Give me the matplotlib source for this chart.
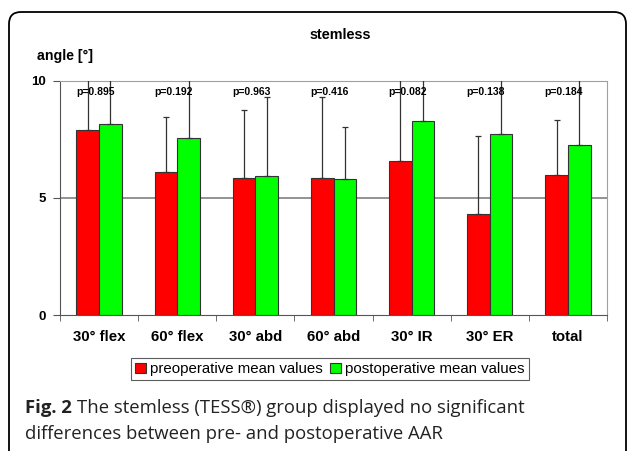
import numpy as np
import matplotlib
matplotlib.use("Agg")
import matplotlib.pyplot as plt
from matplotlib.patches import FancyBboxPatch
from matplotlib.transforms import IdentityTransform

# Data
categories = ["30° flex", "60° flex", "30° abd", "60° abd", "30° IR", "30° ER", "total"]
pre_mean = [7.90, 6.12, 5.86, 5.86, 6.57, 4.31, 5.96]
post_mean = [8.17, 7.54, 5.92, 5.79, 8.27, 7.71, 7.24]
pre_sd = [3.0, 2.34, 2.89, 3.46, 4.0, 3.32, 2.35]
post_sd = [2.6, 3.1, 3.40, 2.25, 2.5, 3.0, 2.86]
p_values = ["p=0.895", "p=0.192", "p=0.963", "p=0.416", "p=0.082", "p=0.138", "p=0.184"]

fig = plt.figure(figsize=(6.29, 4.51), dpi=100)
ax = fig.add_axes([60 / 629, 1 - 315 / 451, 547 / 629, 234.3 / 451])

x = np.arange(len(categories))
w = 0.29
ax.bar(x - w / 2, pre_mean, w, color="#ff0000", edgecolor="#333333", linewidth=0.8,
       label="preoperative mean values", zorder=2)
ax.bar(x + w / 2, post_mean, w, color="#00ff00", edgecolor="#333333", linewidth=0.8,
       label="postoperative mean values", zorder=2)
zeros = [0] * len(categories)
ax.errorbar(x - w / 2, pre_mean, yerr=[zeros, pre_sd], fmt="none", ecolor="#333333",
            elinewidth=0.9, capsize=2.5, capthick=0.9, zorder=3)
ax.errorbar(x + w / 2, post_mean, yerr=[zeros, post_sd], fmt="none", ecolor="#333333",
            elinewidth=0.9, capsize=2.5, capthick=0.9, zorder=3)

for xi, p in zip(x, p_values):
    ax.text(xi - 0.05, 9.52, p, ha="center", va="center", fontsize=7.5,
            fontweight="bold", family="Liberation Sans", zorder=4)

ax.set_xlim(-0.5, len(categories) - 0.5)
ax.set_ylim(0, 10)
ax.set_yticks([0, 5, 10])
ax.set_yticklabels(["0", "5", "10"], fontsize=9.5, fontweight="bold", family="Liberation Sans")
ax.set_xticks(x)
ax.set_xticklabels(categories, fontsize=10.8, fontweight="bold", family="Liberation Sans")
ax.set_xticks(np.arange(len(categories) + 1) - 0.5, minor=True)
ax.tick_params(axis="x", which="major", length=0, pad=11)
ax.tick_params(axis="x", which="minor", length=4, color="#555555", direction="out")
ax.tick_params(axis="y", length=5, color="#555555", pad=5)
ax.axhline(5, color="#808080", linewidth=1.2, zorder=1)

for side in ["top", "right"]:
    ax.spines[side].set_color("#a0a0a0")
for side in ["left", "bottom"]:
    ax.spines[side].set_color("#555555")

# titles
fig.text(37 / 629, 1 - 56 / 451, "angle [°]", ha="left", va="center",
         fontsize=10.2, fontweight="bold", family="Liberation Sans")
fig.text(340 / 629, 1 - 35 / 451, "stemless", ha="center", va="center",
         fontsize=10.4, fontweight="bold", family="Liberation Sans")

leg = fig.legend(loc="center", bbox_to_anchor=(330 / 629, 1 - 369 / 451), ncol=2,
                 prop={"family": "Liberation Sans", "size": 10.8}, frameon=True,
                 fancybox=False, edgecolor="#333333", handlelength=0.7, handleheight=0.7,
                 handletextpad=0.3, columnspacing=0.5, borderpad=0.25, borderaxespad=0)
leg.get_frame().set_linewidth(0.8)

# caption, "Fig. 2" in bold followed by normal text
cap_size = 13.3
cap_color = "#222222"
t_bold = fig.text(25 / 629, 1 - 408 / 451, "Fig. 2", fontsize=cap_size, fontweight="bold",
                  va="center", ha="left", family="Open Sans", color=cap_color)
fig.canvas.draw()
x_end = t_bold.get_window_extent().x1
fig.text(x_end + 5, 451 - 408, "The stemless (TESS®) group displayed no significant",
         transform=IdentityTransform(), fontsize=cap_size, va="center", ha="left",
         family="Open Sans", color=cap_color)
fig.text(25 / 629, 1 - 434 / 451, "differences between pre- and postoperative AAR",
         fontsize=cap_size, va="center", ha="left", family="Open Sans", color=cap_color)

frame = FancyBboxPatch((9, -40), 617, 479, boxstyle="round,pad=0,rounding_size=12",
                       transform=IdentityTransform(), fill=False, edgecolor="black",
                       linewidth=1.3)
fig.patches.append(frame)

fig.savefig("out.png", dpi=100)
